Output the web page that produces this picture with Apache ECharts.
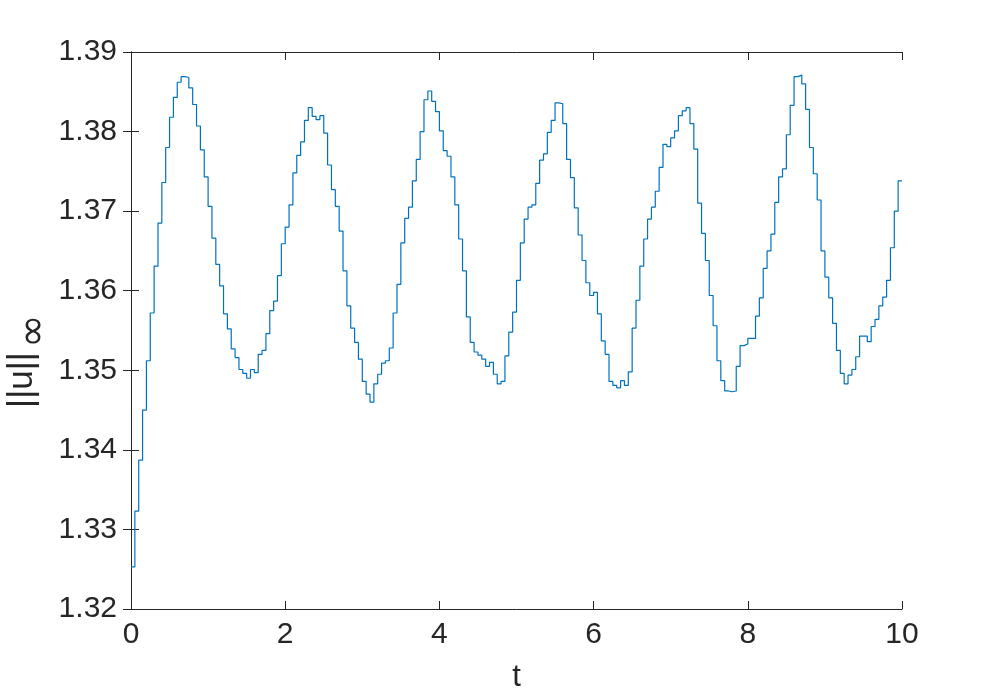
<!DOCTYPE html>
<html>
<head>
<meta charset="utf-8">
<script src="https://cdn.jsdelivr.net/npm/echarts@6/dist/echarts.min.js"></script>
<style>
  html, body { margin: 0; padding: 0; background: #fff; }
  #chart { width: 997px; height: 698px; }
</style>
</head>
<body>
<div id="chart"></div>
<script>
// time step of the stairs plot
const dt = 0.05;
// ||u||_inf, one value per step
const normU = [
  1.3253, 1.3323, 1.3387, 1.3450, 1.3512, 1.3572, 1.3631, 1.3685, 1.3736, 1.3780,
  1.3818, 1.3843, 1.3862, 1.3869, 1.3868, 1.3855, 1.3834, 1.3807, 1.3777, 1.3743,
  1.3706, 1.3666, 1.3633, 1.3606, 1.3571, 1.3552, 1.3527, 1.3516, 1.3501, 1.3496,
  1.3490, 1.3501, 1.3497, 1.3520, 1.3525, 1.3546, 1.3575, 1.3587, 1.3619, 1.3659,
  1.3680, 1.3708, 1.3748, 1.3770, 1.3787, 1.3814, 1.3830, 1.3819, 1.3815, 1.3820,
  1.3798, 1.3758, 1.3727, 1.3706, 1.3675, 1.3625, 1.3581, 1.3553, 1.3535, 1.3514,
  1.3486, 1.3470, 1.3460, 1.3483, 1.3495, 1.3509, 1.3512, 1.3528, 1.3572, 1.3608,
  1.3660, 1.3691, 1.3705, 1.3738, 1.3765, 1.3800, 1.3840, 1.3851, 1.3838, 1.3825,
  1.3801, 1.3776, 1.3769, 1.3743, 1.3708, 1.3665, 1.3625, 1.3567, 1.3535, 1.3523,
  1.3519, 1.3514, 1.3505, 1.3510, 1.3495, 1.3483, 1.3486, 1.3518, 1.3548, 1.3573,
  1.3613, 1.3660, 1.3690, 1.3705, 1.3708, 1.3735, 1.3764, 1.3772, 1.3799, 1.3814,
  1.3836, 1.3835, 1.3810, 1.3765, 1.3742, 1.3704, 1.3670, 1.3638, 1.3610, 1.3594,
  1.3598, 1.3571, 1.3537, 1.3520, 1.3486, 1.3481, 1.3478, 1.3487, 1.3481, 1.3498,
  1.3553, 1.3588, 1.3631, 1.3665, 1.3690, 1.3705, 1.3725, 1.3755, 1.3784, 1.3781,
  1.3792, 1.3801, 1.3820, 1.3826, 1.3830, 1.3810, 1.3778, 1.3710, 1.3672, 1.3638,
  1.3594, 1.3556, 1.3512, 1.3487, 1.3474, 1.3473, 1.3474, 1.3505, 1.3531, 1.3533,
  1.3540, 1.3540, 1.3568, 1.3591, 1.3628, 1.3650, 1.3671, 1.3711, 1.3743, 1.3753,
  1.3796, 1.3833, 1.3869, 1.3871, 1.3860, 1.3828, 1.3780, 1.3747, 1.3714, 1.3650,
  1.3617, 1.3591, 1.3559, 1.3525, 1.3496, 1.3483, 1.3494, 1.3501, 1.3517, 1.3543,
  1.3543, 1.3536, 1.3555, 1.3564, 1.3581, 1.3592, 1.3613, 1.3654, 1.3700, 1.3738
];
// axis ticks
const xTicks = [0, 2, 4, 6, 8, 10];
const yTicks = [1.32, 1.33, 1.34, 1.35, 1.36, 1.37, 1.38, 1.39];

// stairs: each value is held until the next step, last one until t = 10
let points = normU.map((v, i) => [i * dt, v]);
points.push([normU.length * dt, normU[normU.length - 1]]);

const font = "'Liberation Sans', Helvetica, Arial, sans-serif";
const ink = '#262626';

const axisCommon = {
  axisLine: { show: true, lineStyle: { color: ink, width: 1 } },
  axisTick: { show: true, inside: true, length: 8, lineStyle: { color: ink, width: 1 } },
  splitLine: { show: false }
};

let chart = echarts.init(document.getElementById('chart'));
let option = {
  animation: false,
  backgroundColor: '#fff',
  grid: { left: 131, top: 52, width: 771, height: 560 },
  xAxis: [
    Object.assign({
      type: 'value', position: 'bottom',
      min: xTicks[0], max: xTicks[xTicks.length - 1], interval: 2,
      name: 't', nameLocation: 'middle', nameGap: 53,
      nameTextStyle: { color: ink, fontSize: 31, fontFamily: font },
      axisLabel: { color: ink, fontSize: 30, fontFamily: font, margin: 11 }
    }, axisCommon),
    Object.assign({
      type: 'value', position: 'top',
      min: xTicks[0], max: xTicks[xTicks.length - 1], interval: 2,
      axisLabel: { show: false }
    }, axisCommon)
  ],
  yAxis: [
    Object.assign({
      type: 'value', position: 'left',
      min: yTicks[0], max: yTicks[yTicks.length - 1], interval: 0.01,
      axisLabel: {
        color: ink, fontSize: 30, fontFamily: font, margin: 14,
        formatter: v => v.toFixed(2)
      }
    }, axisCommon),
    Object.assign({
      type: 'value', position: 'right',
      min: yTicks[0], max: yTicks[yTicks.length - 1], interval: 0.01,
      axisLabel: { show: false }
    }, axisCommon)
  ],
  // y label ||u||_inf: main text and the subscript, both turned like a y-axis title
  graphic: [{
    type: 'text',
    x: 22, y: 380,
    rotation: Math.PI / 2,
    style: {
      text: '||u||',
      align: 'center', verticalAlign: 'middle',
      fill: ink, fontSize: 35, fontFamily: font
    }
  }, {
    type: 'text',
    x: 35, y: 331,
    rotation: Math.PI / 2,
    style: {
      text: '∞',
      align: 'center', verticalAlign: 'middle',
      fill: ink, fontSize: 40, fontFamily: "'DejaVu Sans', sans-serif"
    }
  }],
  series: [{
    type: 'line',
    step: 'end',
    xAxisIndex: 0,
    yAxisIndex: 0,
    data: points,
    showSymbol: false,
    lineStyle: { color: '#0072BD', width: 1.2 }
  }]
};
option && chart.setOption(option);
</script>
</body>
</html>
